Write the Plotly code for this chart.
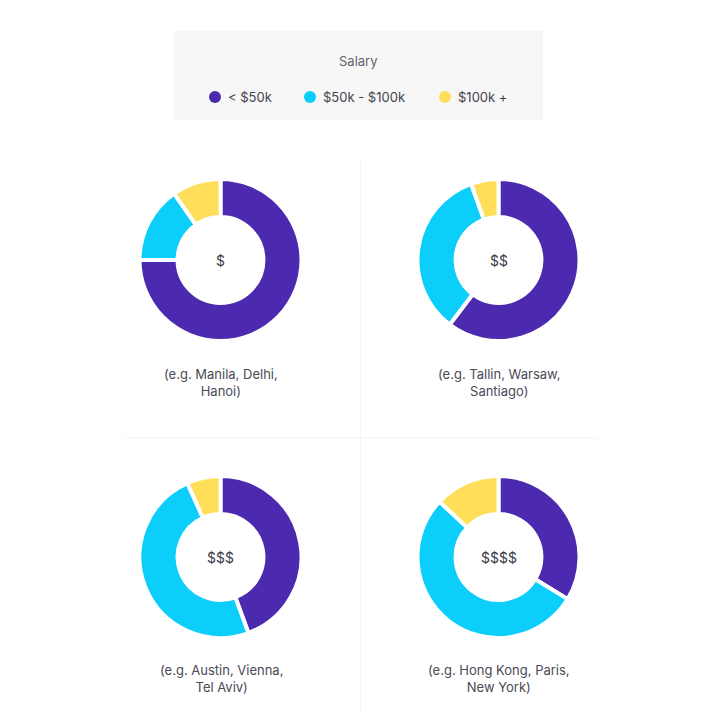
import plotly.graph_objects as go

SIZE = 720

salary_bands = ["< $50k", "$50k - $100k", "$100k +"]
band_colors = ["#4b2ab0", "#0bcefb", "#ffdf5a"]

price_levels = ["$", "$$", "$$$", "$$$$"]
example_cities = [
    "(e.g. Manila, Delhi,<br>Hanoi)",
    "(e.g. Tallin, Warsaw,<br>Santiago)",
    "(e.g. Austin, Vienna,<br>Tel Aviv)",
    "(e.g. Hong Kong, Paris,<br>New York)",
]

# share of each salary band (percent)
under_50k = [75, 60.3, 44.4, 33.7]
mid_band = [15.3, 34.2, 48.9, 53.3]
over_100k = [9.7, 5.5, 6.7, 13]

# ring centres in pixels
centres = [(220.5, 260), (498.5, 260), (220.5, 557), (498.5, 557)]
caption_y = [382, 382, 678, 678]
caption_x = [221, 499, 221, 499]
radius = 81

legend_dot_x = [215, 310, 445]
legend_text_x = [225.5, 320.5, 455.5]


def px_x(v):
    return v / SIZE


def px_y(v):
    return 1 - v / SIZE


fig = go.Figure()

for i, level in enumerate(price_levels):
    cx, cy = centres[i]
    fig.add_trace(
        go.Pie(
            labels=salary_bands,
            values=[under_50k[i], mid_band[i], over_100k[i]],
            name=level,
            hole=0.53,
            sort=False,
            direction="clockwise",
            rotation=0,
            textinfo="none",
            showlegend=False,
            marker=dict(colors=band_colors, line=dict(color="white", width=4)),
            domain=dict(
                x=[px_x(cx - radius), px_x(cx + radius)],
                y=[px_y(cy + radius), px_y(cy - radius)],
            ),
        )
    )

shapes = [
    # legend panel
    dict(type="rect", xref="paper", yref="paper", x0=px_x(174), x1=px_x(543),
         y0=px_y(120), y1=px_y(31), fillcolor="#f7f7f7", line_width=0, layer="below"),
    # grid dividers
    dict(type="line", xref="paper", yref="paper", x0=px_x(360.5), x1=px_x(360.5),
         y0=px_y(710), y1=px_y(162), line=dict(color="#f4f4f6", width=1), layer="below"),
    dict(type="line", xref="paper", yref="paper", x0=px_x(124), x1=px_x(597),
         y0=px_y(438), y1=px_y(438), line=dict(color="#f4f4f6", width=1), layer="below"),
]

annotations = [
    dict(text="Salary", x=px_x(358), y=px_y(61), font=dict(size=13, color="#63636f"))
]

for i, band in enumerate(salary_bands):
    dot = legend_dot_x[i]
    shapes.append(
        dict(type="circle", xref="paper", yref="paper", x0=px_x(dot - 6), x1=px_x(dot + 6),
             y0=px_y(103), y1=px_y(91), fillcolor=band_colors[i], line_width=0)
    )
    annotations.append(
        dict(text=band, x=px_x(legend_text_x[i]), y=px_y(97), xanchor="left",
             font=dict(size=13, color="#44444f"))
    )

for i, level in enumerate(price_levels):
    cx, cy = centres[i]
    annotations.append(
        dict(text=level, x=px_x(cx), y=px_y(cy), font=dict(size=14, color="#3c3c48"))
    )
    annotations.append(
        dict(text=example_cities[i], x=px_x(caption_x[i]), y=px_y(caption_y[i]),
             font=dict(size=13, color="#4a4a56"))
    )

for a in annotations:
    a.setdefault("xanchor", "center")
    a.update(xref="paper", yref="paper", yanchor="middle", showarrow=False)

fig.update_layout(
    width=SIZE,
    height=SIZE,
    margin=dict(l=0, r=0, t=0, b=0),
    paper_bgcolor="white",
    font=dict(family="Inter, 'Noto Sans', sans-serif"),
    shapes=shapes,
    annotations=annotations,
)

# the page's default body margin would push the figure 8px down and right
fig.write_html(
    "out.html",
    config={"displayModeBar": False},
    post_script="document.body.style.margin = '0';",
)
